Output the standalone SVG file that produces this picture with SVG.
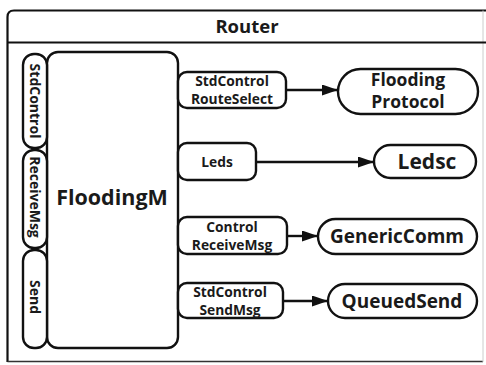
<svg xmlns="http://www.w3.org/2000/svg" width="486" height="365" viewBox="0 0 486 365">
  <style>
    .frame { fill: none; stroke: #111; stroke-width: 2.2; }
    .shape { fill: #fff; stroke: #111; stroke-width: 2.4; }
    .t { font-family: "Open Sans", "Noto Sans", "DejaVu Sans", sans-serif; font-weight: bold; fill: #1a1a1a; text-anchor: middle; }
    .title { font-size: 18.5px; }
    .main { font-size: 21.5px; }
    .port { font-size: 13.8px; }
    .side { font-size: 14px; }
    .comp { font-size: 17.5px; }
    .wire { stroke: #111; stroke-width: 2.4; fill: none; }
  </style>
  <defs>
    <marker id="arrow" viewBox="0 0 16 11" refX="16" refY="5.5" markerWidth="16" markerHeight="11" markerUnits="userSpaceOnUse" orient="auto">
      <path d="M0,0 L16,5.5 L0,11 Z" fill="#111"/>
    </marker>
  </defs>

  <!-- outer configuration frame -->
  <g id="router">
    <rect x="0" y="0" width="486" height="365" fill="#fff"/>
    <path class="frame" d="M7.5,362 V17 Q7.5,10.5 14,10.5 H486"/>
    <path d="M7.5,361.5 H483" stroke="#333" stroke-width="1.6" fill="none"/>
    <path d="M483,10.5 V362" stroke="#ccc" stroke-width="1" fill="none"/>
    <path class="frame" d="M7.5,42.5 H486"/>
    <text class="t title" x="247" y="33">Router</text>
  </g>

  <!-- FloodingM module with its provided interfaces -->
  <g id="floodingM">
    <rect class="shape" x="47" y="52" width="131" height="296" rx="11"/>
    <text class="t main" x="112" y="205">FloodingM</text>
  </g>
  <g id="port-stdcontrol">
    <rect class="shape" x="23" y="54" width="24" height="94" rx="11"/>
    <text class="t side" transform="translate(30,101) rotate(90)">StdControl</text>
  </g>
  <g id="port-receivemsg">
    <rect class="shape" x="23" y="150" width="24" height="98" rx="11"/>
    <text class="t side" transform="translate(30,197) rotate(90)">ReceiveMsg</text>
  </g>
  <g id="port-send">
    <rect class="shape" x="23" y="250" width="24" height="98" rx="11"/>
    <text class="t side" transform="translate(30,297) rotate(90)">Send</text>
  </g>

  <!-- used interfaces -->
  <g id="if-routeselect">
    <rect class="shape" x="178" y="72" width="108" height="36" rx="9"/>
    <text class="t port" x="232" y="86">StdControl</text>
    <text class="t port" x="232" y="104">RouteSelect</text>
  </g>
  <g id="if-leds">
    <rect class="shape" x="178" y="143" width="78" height="37" rx="9"/>
    <text class="t port" x="217" y="166.5">Leds</text>
  </g>
  <g id="if-receivemsg">
    <rect class="shape" x="178" y="217" width="109" height="37" rx="9"/>
    <text class="t port" x="232" y="231.5">Control</text>
    <text class="t port" x="232" y="249.5">ReceiveMsg</text>
  </g>
  <g id="if-sendmsg">
    <rect class="shape" x="178" y="283" width="105" height="35" rx="9"/>
    <text class="t port" x="230" y="296.5">StdControl</text>
    <text class="t port" x="230" y="314.5">SendMsg</text>
  </g>

  <!-- wired components -->
  <g id="flooding-protocol">
    <rect class="shape" x="338" y="69" width="140" height="45" rx="22.5"/>
    <text class="t comp" x="408" y="86">Flooding</text>
    <text class="t comp" x="408" y="108">Protocol</text>
  </g>
  <g id="ledsc">
    <rect class="shape" x="374" y="145" width="102" height="33" rx="16.5"/>
    <text class="t comp" x="427" y="169" style="font-size:21px">Ledsc</text>
  </g>
  <g id="genericcomm">
    <rect class="shape" x="318" y="219" width="159" height="35" rx="17.5"/>
    <text class="t comp" x="397" y="243" style="font-size:19px">GenericComm</text>
  </g>
  <g id="queuedsend">
    <rect class="shape" x="328" y="284" width="149" height="34" rx="17"/>
    <text class="t comp" x="402" y="308" style="font-size:19px">QueuedSend</text>
  </g>

  <!-- connectors -->
  <g id="connectors">
    <line class="wire" x1="286" y1="90" x2="338" y2="90" marker-end="url(#arrow)"/>
    <line class="wire" x1="256" y1="162" x2="374" y2="162" marker-end="url(#arrow)"/>
    <line class="wire" x1="287" y1="236" x2="318" y2="236" marker-end="url(#arrow)"/>
    <line class="wire" x1="283" y1="301" x2="328" y2="301" marker-end="url(#arrow)"/>
  </g>
</svg>
